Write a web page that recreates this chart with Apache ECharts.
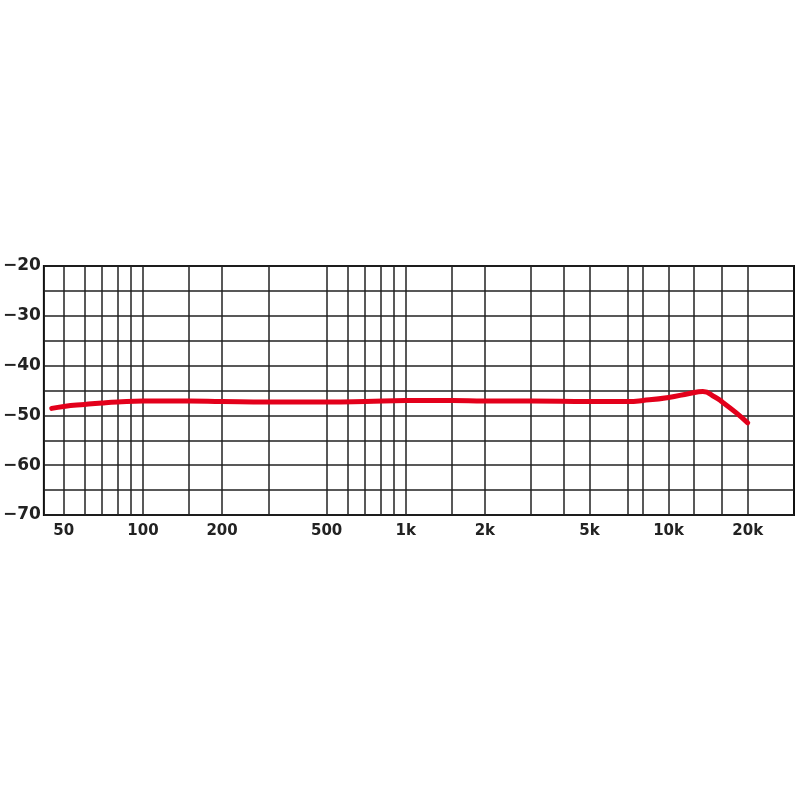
<!DOCTYPE html>
<html>
<head>
<meta charset="utf-8">
<script src="https://cdn.jsdelivr.net/npm/echarts@6/dist/echarts.min.js"></script>
<style>html,body{margin:0;padding:0;background:#fff}#c{width:800px;height:800px}</style>
</head>
<body>
<div id="c"></div>
<script>
// Frequency (Hz) and response (dB)
const frequencies = [45, 50, 60, 70, 80, 100, 150, 200, 300, 500, 700, 1000, 1500, 2000, 3000, 5000, 7000, 8000, 10000, 12000, 13500, 15000, 16000, 18000, 20000];
const responseDb  = [-48.6, -48.2, -47.8, -47.5, -47.3, -47.1, -47.1, -47.2, -47.3, -47.3, -47.2, -47.0, -47.0, -47.1, -47.1, -47.2, -47.2, -47.0, -46.4, -45.6, -45.2, -46.3, -47.3, -49.4, -51.5];
// Axis ticks
const gridFrequencies = [50, 60, 70, 80, 90, 100, 150, 200, 300, 500, 600, 700, 800, 900, 1000, 1500, 2000, 3000, 4000, 5000, 7000, 8000, 10000, 12500, 16000, 20000];
const labelFrequencies = [50, 100, 200, 500, 1000, 2000, 5000, 10000, 20000];
const labelTexts = ['50', '100', '200', '500', '1k', '2k', '5k', '10k', '20k'];

const chart = echarts.init(document.getElementById('c'), null, {renderer: 'canvas'});
const pts = frequencies.map((f, i) => [f, responseDb[i]]);
chart.setOption({
  animation: false,
  backgroundColor: '#fff',
  grid: {left: 42, right: 6, top: 266, bottom: 285, show: true, borderColor: '#111', borderWidth: 2, backgroundColor: 'transparent'},
  xAxis: {
    type: 'log', logBase: 10, min: 42, max: 30000,
    axisLine: {show: false},
    axisTick: {show: false, customValues: gridFrequencies},
    axisLabel: {
      customValues: labelFrequencies,
      margin: 9,
      color: '#222', fontFamily: 'DejaVu Sans', fontWeight: 'bold', fontSize: 15,
      formatter: v => { const i = labelFrequencies.indexOf(Math.round(v)); return i >= 0 ? labelTexts[i] : ''; }
    },
    splitLine: {show: true, lineStyle: {color: '#222', width: 1.5}},
    minorSplitLine: {show: false}
  },
  yAxis: {
    type: 'value', min: -70, max: -20, interval: 10,
    axisLine: {show: false},
    axisTick: {show: false},
    minorTick: {show: false, splitNumber: 2},
    minorSplitLine: {show: true, lineStyle: {color: '#222', width: 1.5}},
    splitLine: {show: true, lineStyle: {color: '#222', width: 1.5}},
    axisLabel: {
      margin: 3,
      color: '#222', fontFamily: 'DejaVu Sans', fontWeight: 'bold', fontSize: 17,
      formatter: v => String(v).replace('-', '\u2212')
    }
  },
  series: [{
    type: 'line',
    data: pts,
    smooth: 0.5,
    symbol: 'none',
    lineStyle: {color: '#e3001b', width: 5, cap: 'round'},
    z: 5
  }]
});
</script>
</body>
</html>
